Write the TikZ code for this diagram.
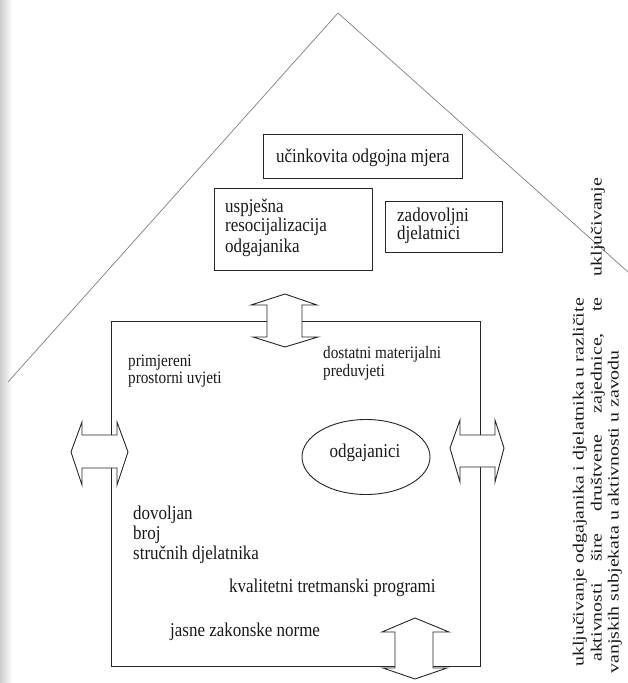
\documentclass[tikz,border=0pt]{standalone}
\usepackage{fontspec}
\usepackage{graphicx}
\setmainfont{Liberation Serif}
\usetikzlibrary{shapes.geometric}
\newcommand\hsq[1]{\scalebox{0.87}[1]{#1}}
\newcommand\vsq[1]{\scalebox{1}[0.78]{#1}}
\begin{document}
\begin{tikzpicture}[x=1pt,y=-1pt,
  boxline/.style={draw=black!85, line width=1pt},
  roofline/.style={draw=black!50, line width=0.7pt},
  dblarrow/.style={draw=black!85, line width=0.9pt, fill=white, line join=miter},
  framed/.style={draw=black!85, line width=1pt, inner sep=0pt},
  txt/.style={font=\fontsize{19.5}{20}\selectfont, inner sep=0pt, anchor=base west, text=black!90},
  txtsm/.style={txt, font=\fontsize{17.5}{18}\selectfont},
  rot/.style={rotate=90, inner sep=0pt, font=\fontsize{19.9}{17}\selectfont, text=black!90}
]
\useasboundingbox (0,0) rectangle (628,683);
\fill[white] (0,0) rectangle (628,683);
\shade[left color=black!20, right color=white] (0,0) rectangle (12,683);

% roof
\coordinate (roofL) at (8,382);
\coordinate (apex) at (338,13);
\coordinate (roofR) at (628,272);
\draw[roofline] (roofL) -- (apex) -- (roofR);

% top boxes
\node[framed, minimum width=199pt, minimum height=44pt] (mjera) at (362.5,156) {};
\node[txt] (mjeraT) at (276,162) {\hsq{učinkovita odgojna mjera}};

\node[framed, minimum width=158pt, minimum height=82pt] (usp) at (293,229) {};
\node[txt] (usp1) at (225,212) {\hsq{uspješna}};
\node[txt] (usp2) at (225,231) {\hsq{resocijalizacija}};
\node[txt] (usp3) at (225,252) {\hsq{odgajanika}};

\node[framed, minimum width=117pt, minimum height=51pt] (zad) at (443.5,226.5) {};
\node[txt] (zad1) at (397,221) {\hsq{zadovoljni}};
\node[txt] (zad2) at (397,239.5) {\hsq{djelatnici}};

% main box
\coordinate (bTL) at (111,321);
\coordinate (bBR) at (480,666);
\draw[boxline] (bTL) rectangle (bBR);

% inner texts
\node[txtsm] (pr1) at (128,366) {\hsq{primjereni}};
\node[txtsm] (pr2) at (128,383.5) {\hsq{prostorni uvjeti}};
\node[txtsm] (do1) at (323,358) {\hsq{dostatni materijalni}};
\node[txtsm] (do2) at (323,376) {\hsq{preduvjeti}};
\node[draw=black!85, line width=0.9pt, ellipse, minimum width=128pt, minimum height=75pt, inner sep=0pt] (odg) at (366,457) {};
\node[txt, anchor=base] (odgT) at (365,457) {\hsq{odgajanici}};
\node[txt] (dv1) at (133,519) {\hsq{dovoljan}};
\node[txt] (dv2) at (133,539) {\hsq{broj}};
\node[txt] (dv3) at (133,559) {\hsq{stručnih djelatnika}};
\node[txt] (kv) at (229,592) {\hsq{kvalitetni tretmanski programi}};
\node[txt] (ja) at (170,636) {\hsq{jasne zakonske norme}};

% double arrows
\draw[dblarrow] (285,294) -- (317,305) -- (302,305) -- (302,337) -- (318,337) -- (285,347)
  -- (253,337) -- (267,337) -- (267,305) -- (251,305) -- cycle;
\draw[dblarrow] (415,618) -- (449,632) -- (433,632) -- (433,668) -- (447,668) -- (415,679)
  -- (383,668) -- (395,668) -- (395,632) -- (382,632) -- cycle;
\draw[dblarrow] (71,452) -- (82,422) -- (82,435) -- (117,435) -- (117,422) -- (128,452)
  -- (117,485) -- (117,468) -- (82,468) -- (82,485) -- cycle;
\draw[dblarrow] (450,448) -- (460,420) -- (460,435) -- (495,435) -- (495,420) -- (504,448)
  -- (495,482) -- (495,467) -- (460,467) -- (460,482) -- cycle;

% rotated text
\node[rot, anchor=base west] (r1) at (583.5,667) {\vsq{uključivanje odgajanika i djelatnika u različite}};
\node[rot, anchor=base west] (r2) at (601.5,662) {\vsq{\hbox to 484pt{aktivnosti\hfill šire\hfill društvene\hfill zajednice,\hfill te\hfill uključivanje}}};
\node[rot, anchor=base east] (r3) at (618.5,350) {\vsq{vanjskih subjekata u aktivnosti u zavodu}};
\end{tikzpicture}
\end{document}
